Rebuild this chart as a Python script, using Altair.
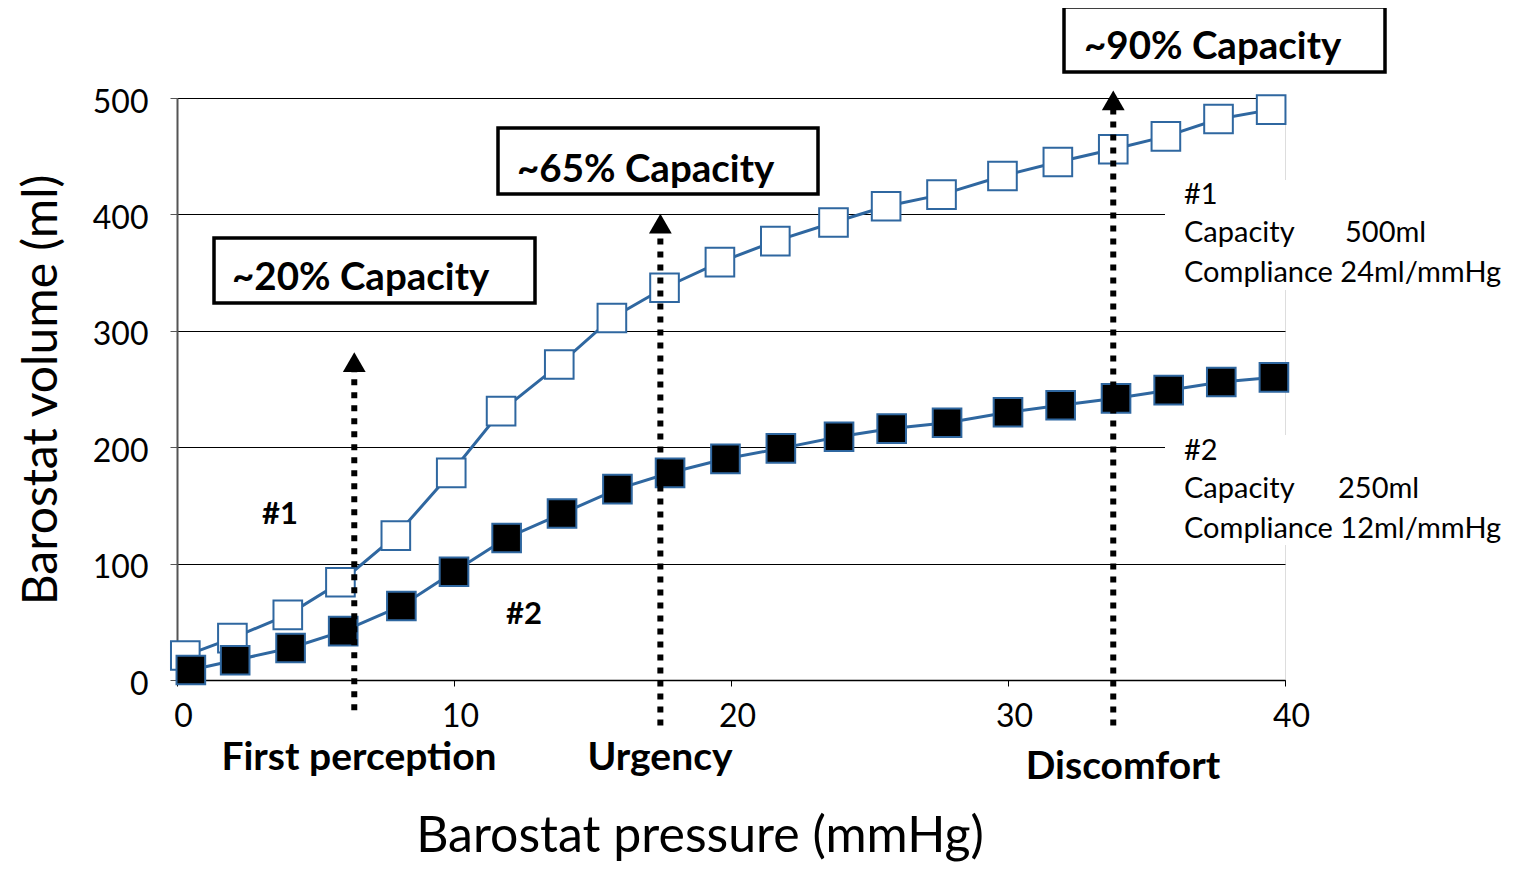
import altair as alt
import pandas as pd

# Series #1 (open squares) and #2 (filled squares)
x1 = [0.3, 2.0, 4.0, 5.9, 7.9, 9.9, 11.7, 13.8, 15.7, 17.6, 19.6, 21.6, 23.7, 25.6, 27.6, 29.8, 31.8, 33.8, 35.7, 37.6, 39.5]
y1 = [21, 36, 56, 84, 124, 178, 231, 271, 311, 337, 359, 377, 393, 407, 417, 433, 445, 456, 467, 482, 490]
x2 = [0.5, 2.1, 4.1, 6.0, 8.1, 10.0, 11.9, 13.9, 15.9, 17.8, 19.8, 21.8, 23.9, 25.8, 27.8, 30.0, 31.9, 33.9, 35.8, 37.7, 39.6]
y2 = [8.6, 17, 27.5, 42, 63.6, 93, 122, 143, 164, 178, 190, 199, 209, 216, 221, 230, 236, 242, 249, 256, 260]

# Sensation thresholds (arrows)
arrow_x = [6.4, 17.45, 33.8]
arrow_bottom = [-26, -39, -39]
arrow_top = [273, 392, 498]

x_ticks = [0, 10, 20, 30, 40]
y_ticks = [0, 100, 200, 300, 400, 500]

FONT = "Lato"
BLUE = "#2f67a0"
W, H = 1108, 582

df1 = pd.DataFrame({"x": x1, "y": y1})
df2 = pd.DataFrame({"x": x2, "y": y2})
dfa = pd.DataFrame({"x": arrow_x, "y0": arrow_bottom, "y1": arrow_top})

xs = alt.Scale(domain=[0, 40], nice=False, zero=False)
ys = alt.Scale(domain=[0, 500], nice=False, zero=False)

X = alt.X("x:Q", scale=xs, axis=alt.Axis(
    values=x_ticks, title=None, grid=False, labelFont=FONT, labelFontSize=32,
    labelColor="black", labelPadding=15, labelOffset=6, labelFlush=False,
    tickSize=6, tickColor="black", domainColor="black", domainWidth=1.5))
Y = alt.Y("y:Q", scale=ys, axis=alt.Axis(
    values=y_ticks, title=None, grid=True, gridColor="black", gridWidth=1,
    labelFont=FONT, labelFontSize=32, labelColor="black", labelPadding=22,
    labelOffset=4, labelFlush=False, tickSize=7, tickColor="#555",
    domainColor="#555", domainWidth=2))

base_axes = alt.Chart(df1).mark_line(opacity=0).encode(x=X, y=Y)

blank = pd.DataFrame({"k": [0]})


def rect(x, x2, y, y2, stroke=None, sw=0):
    kw = dict(fill="white")
    if stroke:
        kw.update(stroke=stroke, strokeWidth=sw)
    return alt.Chart(blank).mark_rect(**kw).encode(
        x=alt.value(x), x2=alt.value(x2), y=alt.value(y), y2=alt.value(y2))


def text(t, x, y, size, bold=False, align="left", angle=0, baseline="middle"):
    return alt.Chart(blank).mark_text(
        text=t, font=FONT, fontSize=size, fontWeight="bold" if bold else "normal",
        align=align, baseline=baseline, color="black", angle=angle
    ).encode(x=alt.value(x), y=alt.value(y))


covers = rect(988, 1150, 82, 192) + rect(988, 1150, 337, 447)

line1 = alt.Chart(df1).mark_line(color=BLUE, strokeWidth=3).encode(x="x:Q", y="y:Q")
pts1 = alt.Chart(df1).mark_square(size=820, fill="white", stroke=BLUE, strokeWidth=2, opacity=1).encode(x="x:Q", y="y:Q")
line2 = alt.Chart(df2).mark_line(color=BLUE, strokeWidth=3).encode(x="x:Q", y="y:Q")
pts2 = alt.Chart(df2).mark_square(size=820, fill="black", stroke=BLUE, strokeWidth=2, opacity=1).encode(x="x:Q", y="y:Q")

arrows = alt.Chart(dfa).mark_rule(color="black", strokeWidth=6, strokeDash=[6, 7]).encode(
    x="x:Q", y="y0:Q", y2="y1:Q")
heads = alt.Chart(dfa).mark_point(shape="triangle-up", size=520, filled=True, color="black", opacity=1).encode(
    x="x:Q", y="y1:Q")

boxes = (rect(37, 358, 140, 205, "black", 3.5) + rect(321, 641, 30, 96, "black", 3.5)
         + rect(887, 1208, -91, -26, "black", 3.5))

labels = (
    text("~20% Capacity", 55, 180, 38.5, True)
    + text("~65% Capacity", 340, 72, 38.5, True)
    + text("~90% Capacity", 907, -51, 38.5, True)
    + text("First perception", 182, 660, 39, True, "center")
    + text("Urgency", 483, 660, 39, True, "center")
    + text("Discomfort", 946, 669, 39, True, "center")
    + text("#1", 103, 417, 31, True, "center")
    + text("#2", 347, 517, 31, True, "center")
    + text("#1", 1007, 97, 29)
    + text("Capacity", 1007, 135, 29)
    + text("500ml", 1168, 135, 29)
    + text("Compliance 24ml/mmHg", 1007, 175, 29)
    + text("#2", 1007, 353, 29)
    + text("Capacity", 1007, 391, 29)
    + text("250ml", 1161, 391, 29)
    + text("Compliance 12ml/mmHg", 1007, 431, 29)
    + text("Barostat volume (ml)", -134, 292, 48, False, "center", 270)
    + text("Barostat pressure (mmHg)", 523, 764, 50, False, "center", 0, "bottom")
)

chart = alt.layer(
    base_axes, covers, line1, line2, pts1, pts2, arrows, heads, boxes, labels
).properties(
    width=W, height=H,
    autosize=alt.AutoSizeParams(type="none"),
    padding={"left": 169, "top": 90, "right": 224, "bottom": 184},
).configure_view(stroke=None).configure(background="white")

chart.save("out.html", embed_options={"renderer": "svg", "actions": False})
